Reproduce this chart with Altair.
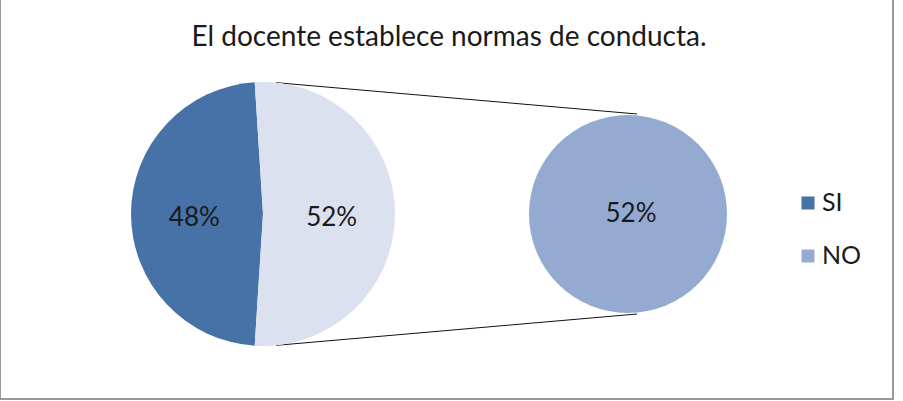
import altair as alt
import pandas as pd
import math

# --- data ---
categories = ["SI", "NO"]
shares = [48, 52]
labels = ["48%", "52%"]
colors = ["#4672A8", "#DCE1EF"]
legend_colors = ["#4672A8", "#95AAD0"]
title_text = "El docente establece normas de conducta."

W, H = 903, 401
FONT = "Lato"

# layout
lcx, lcy, lr = 263, 214, 132
rcx, rcy, rr = 628, 214, 99

no_share = shares[1] / sum(shares)
start = math.pi / 2 + no_share * math.pi  # SI starts here, NO centered at 3 o'clock

df = pd.DataFrame({"cat": categories, "val": shares, "label": labels, "order": [0, 1]})

main_pie = alt.Chart(df).mark_arc(radius=lr, stroke=None).encode(
    theta=alt.Theta("val:Q", stack=True, scale=alt.Scale(range=[start, start + 2 * math.pi])),
    order=alt.Order("order:Q"),
    color=alt.Color("cat:N", scale=alt.Scale(domain=categories, range=colors), legend=None),
    x=alt.value(lcx), y=alt.value(lcy),
)

# label positions from slice mid angles
lab_rows = []
acc = 0
for c, v, l in zip(categories, shares, labels):
    mid = start + 2 * math.pi * (acc + v / 2) / sum(shares)
    acc += v
    rad = lr * 0.52
    lab_rows.append({"label": l, "px": lcx + rad * math.sin(mid), "py": lcy + 4})
lab_df = pd.DataFrame(lab_rows)

xs = alt.Scale(domain=[0, W], range=[0, W])
ys = alt.Scale(domain=[0, H], range=[0, H])

main_labels = alt.Chart(lab_df).mark_text(font=FONT, fontSize=26, color="#1a1a1a", baseline="middle").encode(
    x=alt.X("px:Q", scale=xs, axis=None), y=alt.Y("py:Q", scale=ys, axis=None), text="label:N"
)

sec_df = pd.DataFrame({"cat": [categories[1]], "val": [shares[1]], "label": [labels[1]]})
sec_pie = alt.Chart(sec_df).mark_arc(radius=rr, color=legend_colors[1]).encode(
    theta=alt.Theta("val:Q"), x=alt.value(rcx), y=alt.value(rcy)
)
sec_label = alt.Chart(sec_df).mark_text(font=FONT, fontSize=26, color="#1a1a1a", baseline="middle").encode(
    x=alt.value(rcx + 3), y=alt.value(rcy), text="label:N"
)

# connectors
a = math.radians(5.6)
p1x, p1y = lcx + lr * math.sin(a), lcy - lr * math.cos(a)
p2x, p2y = lcx + lr * math.sin(a), lcy + lr * math.cos(a)
q1x, q1y = rcx + 9, rcy - 100
q2x, q2y = rcx + 9, rcy + 100
conn_top = alt.Chart(df.head(1)).mark_rule(color="#111111", strokeWidth=1).encode(
    x=alt.value(p1x), y=alt.value(p1y), x2=alt.value(q1x), y2=alt.value(q1y))
conn_bot = alt.Chart(df.head(1)).mark_rule(color="#111111", strokeWidth=1).encode(
    x=alt.value(p2x), y=alt.value(p2y), x2=alt.value(q2x), y2=alt.value(q2y))

# legend
leg_df = pd.DataFrame({"cat": categories, "py": [203, 256]})
leg_sq = alt.Chart(leg_df).mark_square(size=170, opacity=1).encode(
    x=alt.value(808), y=alt.Y("py:Q", scale=ys, axis=None),
    color=alt.Color("cat:N", scale=alt.Scale(domain=categories, range=legend_colors), legend=None),
)
leg_tx = alt.Chart(leg_df).mark_text(font=FONT, fontSize=25, color="#1a1a1a", align="left", baseline="middle").encode(
    x=alt.value(822), y=alt.Y("py:Q", scale=ys, axis=None), text="cat:N"
)

title = alt.Chart(pd.DataFrame({"t": [title_text]})).mark_text(
    font=FONT, fontSize=28, color="#1a1a1a", baseline="middle").encode(
    x=alt.value(449), y=alt.value(38), text="t:N")

border = alt.Chart(pd.DataFrame({"a": [0]})).mark_rect(fill=None, stroke="#9a9a9a", strokeWidth=2).encode(
    x=alt.value(0), x2=alt.value(893), y=alt.value(-2), y2=alt.value(399))

chart = alt.layer(
    border, conn_top, conn_bot, main_pie, main_labels, sec_pie, sec_label, leg_sq, leg_tx, title
).resolve_scale(color="independent", theta="independent").properties(
    width=W, height=H, autosize=alt.AutoSizeParams(type="none"), padding=0,
    background="white"
).configure_view(stroke=None)

chart.save("out.html", embed_options={"renderer": "svg", "actions": False})
